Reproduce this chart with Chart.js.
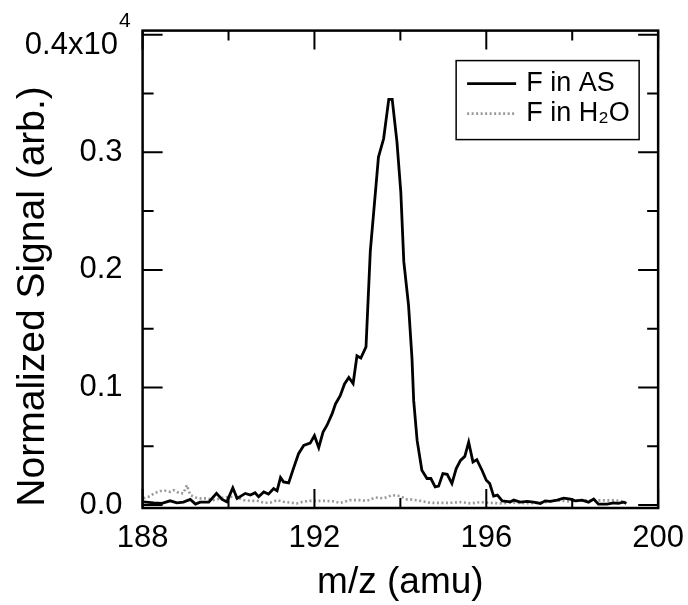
<!DOCTYPE html>
<html>
<head>
<meta charset="utf-8">
<script src="https://cdn.jsdelivr.net/npm/chart.js@4.4.1/dist/chart.umd.min.js"></script>
<style>
  html, body { margin: 0; padding: 0; background: #fff; }
  canvas { display: block; }
</style>
</head>
<body>
<canvas id="msChart" width="688" height="605"></canvas>
<script>
// m/z (amu) and signal (units of 10^4)
const asMz = [188.02,188.26,188.45,188.64,188.80,188.95,189.11,189.23,189.34,189.54,189.72,189.85,189.96,190.10,190.20,190.39,190.51,190.62,190.70,190.82,190.93,191.05,191.13,191.21,191.28,191.40,191.51,191.63,191.75,191.90,192.00,192.10,192.20,192.29,192.41,192.49,192.60,192.70,192.80,192.90,192.99,193.08,193.20,193.30,193.49,193.61,193.73,193.81,193.92,194.01,194.08,194.19,194.27,194.31,194.39,194.50,194.62,194.71,194.81,194.89,194.99,195.09,195.20,195.30,195.40,195.50,195.59,195.69,195.78,195.90,196.00,196.08,196.17,196.26,196.37,196.56,196.64,196.79,196.95,197.10,197.26,197.37,197.49,197.65,197.80,197.96,198.07,198.23,198.38,198.50,198.61,198.81,198.96,199.07,199.20,199.26];
const asSig = [0.0028,0.0019,0.0014,0.0036,0.0019,0.0025,0.0048,0.0008,0.0025,0.0025,0.0099,0.0048,0.0028,0.0146,0.0057,0.0099,0.0085,0.0104,0.0070,0.0112,0.0093,0.0141,0.0121,0.0234,0.0197,0.0188,0.0310,0.0437,0.0507,0.0527,0.0590,0.0488,0.0620,0.0677,0.0775,0.0860,0.0930,0.1030,0.1085,0.1034,0.1270,0.1250,0.1345,0.2157,0.2960,0.3115,0.3450,0.3450,0.3090,0.2664,0.2070,0.1700,0.1250,0.0888,0.0550,0.0296,0.0226,0.0226,0.0155,0.0161,0.0268,0.0262,0.0183,0.0310,0.0380,0.0414,0.0535,0.0366,0.0386,0.0296,0.0211,0.0183,0.0076,0.0085,0.0036,0.0028,0.0042,0.0025,0.0031,0.0025,0.0014,0.0036,0.0031,0.0042,0.0059,0.0051,0.0036,0.0042,0.0025,0.0051,0.0008,0.0008,0.0019,0.0014,0.0025,0.0014];

const h2oMz = [188.02,188.14,188.30,188.41,188.53,188.64,188.72,188.84,188.95,189.03,189.11,189.23,189.34,189.50,189.65,189.89,190.04,190.20,190.35,190.51,190.66,190.82,190.97,191.13,191.28,191.44,191.59,191.75,191.90,192.21,192.45,192.60,192.83,193.06,193.22,193.42,193.61,193.81,194.00,194.15,194.23,194.46,194.70,194.93,195.16,195.40,195.63,195.86,196.09,196.32,196.56,197.02,197.37,197.61,197.96,198.26,198.66,198.96,199.12,199.26];
const h2oSig = [0.0057,0.0071,0.0105,0.0119,0.0122,0.0113,0.0127,0.0104,0.0099,0.0169,0.0085,0.0065,0.0057,0.0057,0.0042,0.0065,0.0070,0.0065,0.0042,0.0036,0.0036,0.0020,0.0020,0.0042,0.0028,0.0020,0.0014,0.0030,0.0036,0.0036,0.0031,0.0019,0.0042,0.0042,0.0036,0.0065,0.0057,0.0085,0.0076,0.0048,0.0048,0.0036,0.0019,0.0019,0.0019,0.0025,0.0014,0.0025,0.0019,0.0014,0.0020,0.0015,0.0025,0.0040,0.0030,0.0040,0.0040,0.0040,0.0035,0.0025];

const xTicks = [188, 190, 192, 194, 196, 198, 200];
const xLabels = ["188", "", "192", "", "196", "", "200"];
const yTicks = [0, 0.05, 0.1, 0.15, 0.2, 0.25, 0.3, 0.35, 0.4];
const yLabels = ["0.0", "", "0.1", "", "0.2", "", "0.3", "", "0.4x10"];
const yExponent = "4";

const FONT = "'Liberation Sans', Arial, sans-serif";

const toPoints = (xs, ys) => xs.map((x, i) => ({ x: x, y: ys[i] }));

// frame, inward ticks, top label with exponent and in-plot legend
const framePlugin = {
  id: "frame",
  afterDatasetsDraw(chart) {
    const { ctx, chartArea: a, scales } = chart;
    ctx.save();
    ctx.strokeStyle = "#000";
    ctx.lineWidth = 2.5;
    ctx.strokeRect(a.left, a.top, a.right - a.left, a.bottom - a.top);

    ctx.lineWidth = 2;
    ctx.beginPath();
    xTicks.forEach((v, i) => {
      const px = scales.x.getPixelForValue(v);
      const len = xLabels[i] ? 19 : 10;
      ctx.moveTo(px, a.bottom); ctx.lineTo(px, a.bottom - len);
      ctx.moveTo(px, a.top); ctx.lineTo(px, a.top + len);
    });
    yTicks.forEach((v, i) => {
      const py = scales.y.getPixelForValue(v);
      const len = yLabels[i] ? 20 : 11;
      ctx.moveTo(a.left, py); ctx.lineTo(a.left + len, py);
      ctx.moveTo(a.right, py); ctx.lineTo(a.right - len, py);
    });
    ctx.stroke();

    // top tick label: mantissa with raised exponent
    const topY = scales.y.getPixelForValue(yTicks[yTicks.length - 1]);
    const labelRight = a.left - 12;
    ctx.fillStyle = "#000";
    ctx.textAlign = "right";
    ctx.textBaseline = "alphabetic";
    ctx.font = "21px " + FONT;
    const expW = ctx.measureText(yExponent).width;
    ctx.fillText(yExponent, labelRight, topY - 8);
    ctx.font = "31px " + FONT;
    ctx.fillText(yLabels[yLabels.length - 1], labelRight - expW - 1, topY + 19);

    // legend box
    const bx = a.right - 202, by = a.top + 30, bw = 183, bh = 79;
    ctx.textAlign = "left";
    ctx.fillStyle = "#fff";
    ctx.fillRect(bx, by, bw, bh);
    ctx.strokeStyle = "#000";
    ctx.lineWidth = 1.5;
    ctx.strokeRect(bx, by, bw, bh);
    ctx.font = "27px " + FONT;
    ctx.textBaseline = "middle";
    chart.data.datasets.forEach((ds, i) => {
      const ly = by + 23 + i * 30;
      ctx.strokeStyle = ds.borderColor;
      ctx.lineWidth = ds.borderWidth;
      ctx.setLineDash(ds.borderDash || []);
      ctx.beginPath();
      ctx.moveTo(bx + 11, ly); ctx.lineTo(bx + 60, ly);
      ctx.stroke();
      ctx.setLineDash([]);
      ctx.fillStyle = "#000";
      ctx.fillText(ds.label, bx + 70, ly);
    });
    ctx.restore();
  }
};

new Chart(document.getElementById("msChart"), {
  type: "scatter",
  data: {
    datasets: [
      {
        label: "F in AS",
        data: toPoints(asMz, asSig),
        showLine: true,
        borderColor: "#000",
        borderWidth: 2.8,
        pointRadius: 0,
        tension: 0
      },
      {
        label: "F in H\u2082O",
        data: toPoints(h2oMz, h2oSig),
        showLine: true,
        borderColor: "#9a9a9a",
        borderWidth: 2.6,
        borderDash: [2, 2.5],
        pointRadius: 0,
        tension: 0
      }
    ]
  },
  options: {
    responsive: false,
    animation: false,
    devicePixelRatio: 1,
    layout: { padding: { top: 21, right: 24, bottom: 0, left: 0 } },
    plugins: { legend: { display: false }, tooltip: { enabled: false } },
    scales: {
      x: {
        type: "linear",
        min: 188,
        max: 200,
        grid: { display: false },
        border: { display: false },
        afterBuildTicks: s => { s.ticks = xTicks.map(v => ({ value: v })); },
        afterFit: s => { s.height = 97; },
        ticks: {
          color: "#000",
          font: { family: FONT, size: 31 },
          padding: 4,
          maxRotation: 0,
          autoSkip: false,
          callback: (v) => xLabels[xTicks.indexOf(v)]
        },
        title: {
          display: true,
          text: "m/z (amu)",
          color: "#000",
          font: { family: FONT, size: 37 },
          padding: { top: 0, bottom: 0 }
        }
      },
      y: {
        type: "linear",
        min: -0.0025,
        max: 0.4035,
        grid: { display: false },
        border: { display: false },
        afterBuildTicks: s => { s.ticks = yTicks.map(v => ({ value: v })); },
        afterFit: s => { s.width = 142.6; },
        ticks: {
          color: "#000",
          font: { family: FONT, size: 31 },
          padding: 12,
          autoSkip: false,
          callback: (v) => {
            const i = yTicks.findIndex(t => Math.abs(t - v) < 1e-6);
            return i >= 0 && i < yTicks.length - 1 ? yLabels[i] : "";
          }
        },
        title: {
          display: true,
          text: "Normalized Signal (arb.)     ",
          color: "#000",
          font: { family: FONT, size: 39 },
          padding: { top: 10, bottom: 0 }
        }
      }
    }
  },
  plugins: [framePlugin]
});
</script>
</body>
</html>
